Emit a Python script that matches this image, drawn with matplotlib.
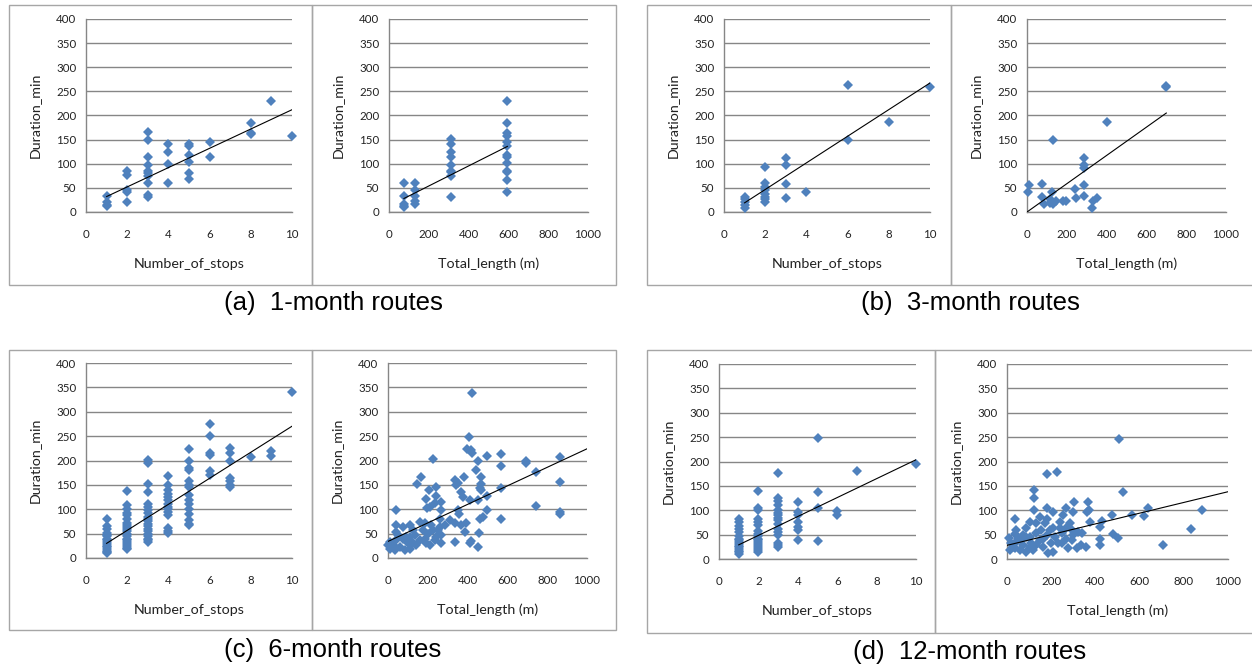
import matplotlib
matplotlib.use("Agg")
import matplotlib.pyplot as plt
import numpy as np
from matplotlib.patches import Rectangle

# ---------------- data ----------------
# (a) 1-month routes
a_stops_x = [1, 1, 1, 1, 2, 2, 2, 2, 2, 3, 3, 3, 3, 3, 3, 3, 3, 3, 3,
             4, 4, 4, 4, 5, 5, 5, 5, 5, 5, 6, 6, 8, 8, 8, 9, 10]
a_stops_y = [33, 20, 15, 12, 84, 77, 45, 41, 21, 166, 150, 114, 98, 84, 81, 74, 60, 35, 31,
             141, 124, 100, 61, 141, 136, 119, 103, 81, 68, 146, 113, 185, 163, 161, 230, 157]
a_len_x = [75, 75, 75, 75, 75, 130, 130, 130, 130, 130,
           310, 310, 310, 310, 310, 310, 310, 310, 310,
           595, 595, 595, 595, 595, 595, 595, 595, 595, 595, 595, 595, 595]
a_len_y = [61, 34, 17, 13, 10, 61, 45, 34, 22, 17,
           151, 141, 124, 115, 98, 86, 82, 74, 31,
           230, 184, 163, 158, 146, 136, 119, 114, 101, 86, 82, 67, 41]

# (b) 3-month routes
b_stops_x = [1, 1, 1, 1, 1, 2, 2, 2, 2, 2, 2, 2, 2, 3, 3, 3, 3, 4, 6, 6, 8, 10]
b_stops_y = [32, 27, 21, 15, 8, 93, 61, 52, 45, 38, 31, 26, 21, 112, 97, 57, 28, 42, 264, 149, 186, 259]
b_len_x = [8, 5, 76, 76, 86, 114, 128, 131, 131, 148, 182, 195, 240, 244,
           287, 287, 287, 287, 287, 328, 333, 350, 400, 699, 699, 114]
b_len_y = [56, 42, 59, 32, 17, 27, 41, 150, 17, 22, 23, 22, 48, 28,
           112, 97, 91, 55, 34, 8, 22, 28, 186, 261, 259, 19]

# (c) 6-month routes
c_stops_x = ([1] * 16 + [2] * 20 + [3] * 20 + [4] * 14 + [5] * 15 + [6] * 6 + [7] * 7
             + [8] + [9, 9] + [10])
c_stops_y = [80, 65, 60, 52, 48, 45, 40, 36, 32, 28, 25, 22, 18, 15, 12, 10,
             138, 108, 100, 92, 88, 80, 72, 68, 64, 60, 55, 50, 45, 40, 36, 32, 28, 24, 20, 18,
             202, 195, 152, 135, 110, 105, 98, 92, 85, 80, 75, 70, 65, 60, 55, 50, 45, 40, 36, 33,
             168, 150, 140, 132, 125, 118, 110, 105, 100, 95, 88, 62, 55, 52,
             224, 200, 185, 180, 158, 150, 145, 130, 120, 110, 100, 90, 78, 70, 67,
             274, 250, 216, 212, 178, 170,
             226, 216, 200, 165, 158, 150, 145,
             208, 220, 210, 340]
c_len_x = [422, 407, 397, 417, 424, 226, 497, 569, 569, 695, 695, 866, 452, 441, 469, 469,
           461, 469, 569, 742, 866, 742, 866, 866, 569, 497, 499, 452, 461, 477, 456, 452,
           419, 410, 410, 377, 380, 367, 338, 352, 343, 352, 355, 338, 367, 385, 394, 335,
           310, 168, 147, 243, 240, 204, 193, 236, 268, 268, 260, 196, 209, 159, 109, 75,
           39, 39, 39, 50, 8, 0, 8, 34, 59, 84, 109, 126, 92, 134, 159, 184, 193, 176, 201,
           226, 234, 251, 268, 268, 285, 42, 25, 209, 243, 34, 100, 142, 218, 184, 126, 109,
           75, 260]
c_len_y = [339, 249, 224, 221, 215, 203, 210, 214, 188, 198, 195, 207, 199, 181, 167, 152,
           143, 140, 144, 176, 155, 107, 95, 91, 79, 128, 98, 119, 79, 85, 52, 23,
           34, 30, 119, 126, 167, 136, 159, 153, 150, 98, 91, 72, 67, 54, 71, 32,
           78, 167, 152, 146, 128, 140, 122, 112, 115, 98, 81, 102, 105, 74, 67, 64,
           98, 67, 54, 47, 33, 26, 19, 16, 23, 16, 19, 30, 43, 47, 36, 40, 30, 57, 50,
           57, 36, 57, 30, 47, 67, 36, 26, 26, 43, 23, 30, 26, 67, 71, 57, 43,
           40, 64]

# (d) 12-month routes
d_stops_x = ([1] * 16 + [2] * 17 + [3] * 16 + [4] * 7 + [5] * 4 + [6] * 2 + [7] + [10])
d_stops_y = [82, 75, 68, 62, 55, 48, 42, 38, 34, 30, 27, 24, 20, 17, 14, 10,
             140, 104, 100, 82, 76, 70, 57, 52, 47, 42, 38, 34, 30, 26, 22, 18, 14,
             176, 125, 118, 110, 100, 95, 90, 85, 80, 72, 62, 55, 50, 32, 28, 25,
             117, 96, 91, 75, 65, 60, 40,
             248, 137, 104, 36,
             98, 90, 180, 194]
d_len_x = [505, 179, 224, 523, 123, 123, 123, 179, 303, 368, 372, 363, 300, 266, 209, 35,
           474, 567, 620, 640, 884, 834, 708, 501, 478, 428, 375, 419, 419, 422, 340, 337,
           359, 315, 284, 254, 239, 247, 269, 292, 277, 209, 186, 163, 148, 171, 156, 103,
           88, 88, 42, 9, 20, 35, 57, 88, 118, 133, 110, 73, 50, 73, 103, 133, 179, 194,
           216, 231, 201, 179, 133, 148, 27, 42, 12, 103, 163, 209, 239, 269, 292, 300,
           322, 251, 65, 35]
d_len_y = [247, 175, 179, 138, 141, 126, 100, 105, 116, 116, 100, 97, 97, 104, 96, 82,
           90, 91, 88, 105, 100, 61, 29, 44, 51, 78, 75, 66, 42, 29, 53, 29,
           24, 22, 73, 90, 76, 53, 42, 39, 22, 15, 12, 25, 39, 73, 59, 76,
           63, 46, 59, 44, 32, 22, 18, 15, 18, 29, 32, 29, 42, 49, 46, 53, 49, 59,
           46, 32, 32, 83, 73, 87, 25, 35, 18, 25, 42, 63, 63, 63, 59, 49,
           56, 32, 39, 52]

# trendlines: (slope, intercept, x_start, x_end)
trend_a_stops = (20.0, 12.0, 1, 10)
trend_a_len = (0.2077, 12.4, 75, 595)
trend_b_stops = (27.6, -8.6, 1, 10)
trend_b_len = (0.293, 0.0, 0, 700)
trend_c_stops = (26.7, 3.3, 1, 10)
trend_c_len = (0.19, 34.0, 0, 1000)
trend_d_stops = (19.4, 9.6, 1, 10)
trend_d_len = (0.11, 28.0, 0, 1000)

captions = ["(a)  1-month routes", "(b)  3-month routes",
            "(c)  6-month routes", "(d)  12-month routes"]
y_ticks = [0, 50, 100, 150, 200, 250, 300, 350, 400]
x_ticks_stops = [0, 2, 4, 6, 8, 10]
x_ticks_len = [0, 200, 400, 600, 800, 1000]
x_label_stops = "Number_of_stops"
x_label_len = "Total_length (m)"
y_label = "Duration_min"

# ---------------- styling ----------------
W, H = 1252, 666
fig = plt.figure(figsize=(W / 100, H / 100), dpi=100)
fig.patch.set_facecolor("white")

MARK = "#4F81BD"
GRID = "#868686"
FRAME = "#A6A6A6"
TICKFONT = ["Lato", "DejaVu Sans"]
CAPFONT = ["Liberation Sans", "DejaVu Sans"]


def px_axes(l, r, t, b):
    return fig.add_axes([l / W, 1 - b / H, (r - l) / W, (b - t) / H])


def draw(ax, xs, ys, trend, xmax, xticks, xlabel):
    ax.set_xlim(0, xmax)
    ax.set_ylim(0, 400)
    ax.set_yticks(y_ticks)
    ax.set_xticks(xticks)
    ax.set_xticklabels([str(v) for v in xticks])
    ax.grid(axis="y", color=GRID, linewidth=1.0)
    ax.set_axisbelow(True)
    for s in ("top", "right"):
        ax.spines[s].set_visible(False)
    ax.spines["left"].set_color(GRID)
    ax.spines["bottom"].set_color(GRID)
    ax.spines["left"].set_linewidth(1.0)
    ax.spines["bottom"].set_linewidth(1.0)
    ax.tick_params(axis="both", length=0, labelsize=8.3, colors="#222222")
    ax.tick_params(axis="y", pad=7)
    ax.tick_params(axis="x", pad=12)
    for lab in ax.get_xticklabels() + ax.get_yticklabels():
        lab.set_family(TICKFONT)
    ax.plot(xs, ys, linestyle="none", marker="D", markersize=5.4,
            color=MARK, markeredgewidth=0, clip_on=False, zorder=3)
    tx = np.array([trend[2], trend[3]], dtype=float)
    ax.plot(tx, trend[0] * tx + trend[1], color="black", linewidth=0.8, zorder=4)
    ax.set_xlabel(xlabel, fontsize=10.3, family=TICKFONT, labelpad=13, color="#222222")
    ax.set_ylabel(y_label, fontsize=10.3, family=TICKFONT, labelpad=11, color="#222222")
    ax.patch.set_alpha(0)


# frames (chart borders)
def frame(l, r, t, b):
    fig.add_artist(Rectangle((l / W, 1 - b / H), (r - l) / W, (b - t) / H,
                             transform=fig.transFigure, fill=False,
                             edgecolor=FRAME, linewidth=1.0))

frame(9, 312, 5, 285)
frame(312, 616, 5, 285)
frame(647, 951, 5, 285)
frame(951, 1260, 5, 285)
frame(9, 312, 350, 630)
frame(312, 616, 350, 630)
frame(647, 935, 350, 633)
frame(935, 1260, 350, 633)

# axes
ax = px_axes(86, 292, 19, 212)
draw(ax, a_stops_x, a_stops_y, trend_a_stops, 10, x_ticks_stops, x_label_stops)
ax = px_axes(389, 588, 19, 212)
draw(ax, a_len_x, a_len_y, trend_a_len, 1000, x_ticks_len, x_label_len)
ax = px_axes(724, 930, 19, 212)
draw(ax, b_stops_x, b_stops_y, trend_b_stops, 10, x_ticks_stops, x_label_stops)
ax = px_axes(1027, 1226, 19, 212)
draw(ax, b_len_x, b_len_y, trend_b_len, 1000, x_ticks_len, x_label_len)
ax = px_axes(86, 292, 363, 558)
draw(ax, c_stops_x, c_stops_y, trend_c_stops, 10, x_ticks_stops, x_label_stops)
ax = px_axes(388, 587, 363, 558)
draw(ax, c_len_x, c_len_y, trend_c_len, 1000, x_ticks_len, x_label_len)
ax = px_axes(719, 916, 364, 559)
draw(ax, d_stops_x, d_stops_y, trend_d_stops, 10, x_ticks_stops, x_label_stops)
ax = px_axes(1007, 1228, 364, 559)
draw(ax, d_len_x, d_len_y, trend_d_len, 1000, x_ticks_len, x_label_len)

# captions
cap_pos = [(333, 303), (970, 303), (333, 650), (970, 652)]
for txt, (cx, cy) in zip(captions, cap_pos):
    fig.text(cx / W, 1 - cy / H, txt, ha="center", va="center",
             fontsize=18.5, family=CAPFONT, color="black")

fig.savefig("out.png", dpi=100, facecolor="white")
